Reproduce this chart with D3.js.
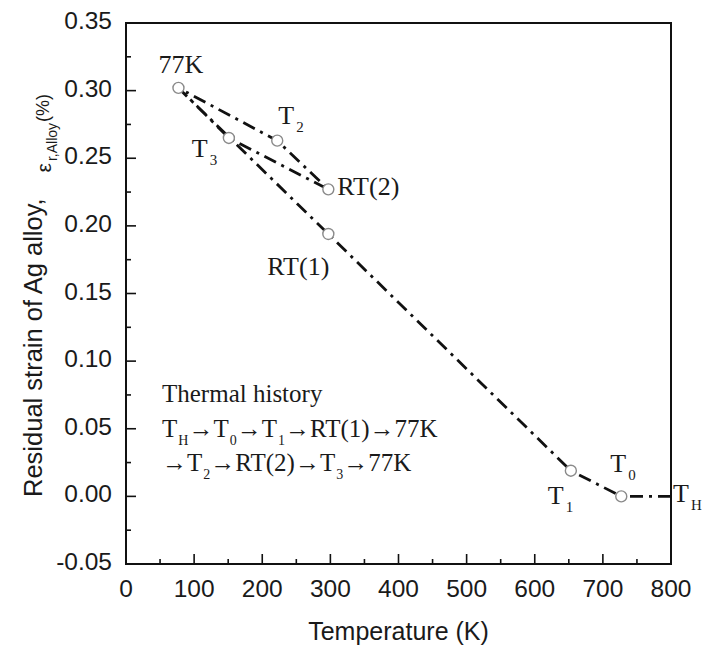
<!DOCTYPE html>
<html>
<head>
<meta charset="utf-8">
<script src="https://cdn.jsdelivr.net/npm/d3@7"></script>
<style>
  body { margin: 0; background: #fff; }
  .tick-label { font-family: "Liberation Sans", Arial, sans-serif; font-size: 24.5px; fill: #1a1a1a; }
  .ax-title { font-family: "Liberation Sans", Arial, sans-serif; fill: #1a1a1a; }
  .serif { font-family: "Liberation Serif", "Times New Roman", serif; fill: #1a1a1a; }
</style>
</head>
<body>
<div id="chart"></div>
<script>
// thermal path: TH -> T0 -> T1 -> RT(1) -> 77K -> T2 -> RT(2) -> T3 -> 77K
const temps   = [800, 727, 653, 297, 77, 222, 297, 151, 77];
const strains = [0.000, 0.000, 0.019, 0.194, 0.302, 0.263, 0.227, 0.265, 0.302];
const marked  = [false, true, true, true, true, true, true, true, false];

const xTicks = [0, 100, 200, 300, 400, 500, 600, 700, 800];
const yTicks = [-0.05, 0.00, 0.05, 0.10, 0.15, 0.20, 0.25, 0.30, 0.35];

// labels: [base, subscript, index of point, dx, dy]
const labels = [
    ['77K', '', 4, -20, -15],
    ['T', '2', 5, 1, -17],
    ['T', '3', 7, -37, 19],
    ['RT(2)', '', 6, 9, 6],
    ['RT(1)', '', 3, -61, 41],
    ['T', '1', 2, -23, 33],
    ['T', '0', 1, -11, -24],
    ['T', 'H', 0, 2, 6]
];

const width = 704, height = 651;
const margin = { top: 23, right: 33, bottom: 87, left: 126 };
const innerW = width - margin.left - margin.right;
const innerH = height - margin.top - margin.bottom;

const svg = d3.select('#chart').append('svg')
    .attr('width', width)
    .attr('height', height);

const g = svg.append('g')
    .attr('transform', `translate(${margin.left},${margin.top})`);

const x = d3.scaleLinear().domain([0, 800]).range([0, innerW]);
const y = d3.scaleLinear().domain([-0.05, 0.35]).range([innerH, 0]);

// minor ticks
const xMinor = d3.range(50, 800, 100);
const yMinor = d3.range(-0.025, 0.35, 0.05);

g.selectAll('.xmaj').data(xTicks).enter().append('line')
    .attr('x1', d => x(d)).attr('x2', d => x(d))
    .attr('y1', innerH).attr('y2', innerH - 10)
    .attr('stroke', '#111').attr('stroke-width', 1.6);
g.selectAll('.xmin').data(xMinor).enter().append('line')
    .attr('x1', d => x(d)).attr('x2', d => x(d))
    .attr('y1', innerH).attr('y2', innerH - 5)
    .attr('stroke', '#111').attr('stroke-width', 1.6);
g.selectAll('.ymaj').data(yTicks).enter().append('line')
    .attr('x1', 0).attr('x2', 10)
    .attr('y1', d => y(d)).attr('y2', d => y(d))
    .attr('stroke', '#111').attr('stroke-width', 1.6);
g.selectAll('.ymin').data(yMinor).enter().append('line')
    .attr('x1', 0).attr('x2', 5)
    .attr('y1', d => y(d)).attr('y2', d => y(d))
    .attr('stroke', '#111').attr('stroke-width', 1.6);

g.selectAll('.xl').data(xTicks).enter().append('text')
    .attr('class', 'tick-label')
    .attr('x', d => x(d)).attr('y', innerH + 33)
    .attr('text-anchor', 'middle')
    .text(d => d);
g.selectAll('.yl').data(yTicks).enter().append('text')
    .attr('class', 'tick-label')
    .attr('x', -14).attr('y', d => y(d) + 6)
    .attr('text-anchor', 'end')
    .text(d => d.toFixed(2));

// frame
g.append('rect')
    .attr('width', innerW).attr('height', innerH)
    .attr('fill', 'none').attr('stroke', '#111').attr('stroke-width', 2);

const pts = temps.map((t, i) => ({ t, s: strains[i], m: marked[i] }));

g.append('path')
    .datum(pts)
    .attr('fill', 'none')
    .attr('stroke', '#111')
    .attr('stroke-width', 2.8)
    .attr('stroke-dasharray', '13,6,3,6')
    .attr('d', d3.line().x(d => x(d.t)).y(d => y(d.s)));

g.selectAll('.pt').data(pts.filter(d => d.m)).enter().append('circle')
    .attr('cx', d => x(d.t)).attr('cy', d => y(d.s))
    .attr('r', 5.5)
    .attr('fill', '#fff')
    .attr('stroke', '#8a8a8a')
    .attr('stroke-width', 1.4);

// point labels
labels.forEach(([base, sub, idx, dx, dy]) => {
    const t = g.append('text')
        .attr('class', 'serif')
        .attr('font-size', 26)
        .attr('x', x(temps[idx]) + dx)
        .attr('y', y(strains[idx]) + dy);
    t.append('tspan').text(base);
    if (sub) {
        t.append('tspan').attr('font-size', 15).attr('dx', 2).attr('dy', 8).text(sub);
    }
});

// thermal history note
const note = g.append('g').attr('class', 'serif')
    .attr('transform', `translate(${x(0) + 36},0)`);
note.append('text').attr('font-size', 25).attr('y', 402 - margin.top).text('Thermal history');

function seq(yBase, parts) {
    const t = note.append('text').attr('font-size', 25).attr('y', yBase - margin.top);
    let shifted = false;
    parts.forEach(p => {
        if (p.sub) {
            t.append('tspan').attr('font-size', 14).attr('dx', 1).attr('dy', 8).text(p.sub);
            shifted = true;
        } else {
            t.append('tspan').attr('dy', shifted ? -8 : 0).text(p.txt);
            shifted = false;
        }
    });
}
seq(437, [{ txt: 'T' }, { sub: 'H' }, { txt: '→T' }, { sub: '0' }, { txt: '→T' }, { sub: '1' }, { txt: '→RT(1)→77K' }]);
seq(471, [{ txt: '→T' }, { sub: '2' }, { txt: '→RT(2)→T' }, { sub: '3' }, { txt: '→77K' }]);

// axis titles
svg.append('text')
    .attr('class', 'ax-title')
    .attr('font-size', 25)
    .attr('x', margin.left + innerW / 2)
    .attr('y', 640)
    .attr('text-anchor', 'middle')
    .text('Temperature (K)');

const yt = svg.append('text')
    .attr('class', 'ax-title')
    .attr('font-size', 25.5)
    .attr('text-anchor', 'start')
    .attr('transform', 'translate(42,497) rotate(-90)');
yt.append('tspan').text('Residual strain of Ag alloy,');
yt.append('tspan').attr('font-size', 21).attr('dx', 26).attr('dy', 9).text('ε');
yt.append('tspan').attr('font-size', 14).attr('dx', 2).attr('dy', 6).text('r,Alloy');
yt.append('tspan').attr('font-size', 18).attr('dx', 1).attr('dy', -8).text('(%)');
</script>
</body>
</html>
